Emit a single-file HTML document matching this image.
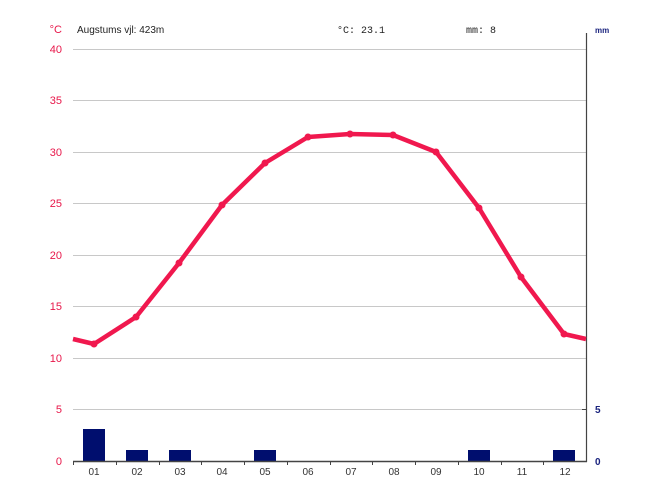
<!DOCTYPE html><html><head><style>body{margin:0;background:#fff}svg{display:block}</style></head><body>
<svg width="658" height="493" xmlns="http://www.w3.org/2000/svg" font-family="Liberation Sans, sans-serif">
<g stroke="#c8c8c8" stroke-width="1">
<line x1="73" y1="49.5" x2="586" y2="49.5"/><line x1="73" y1="100.5" x2="586" y2="100.5"/><line x1="73" y1="152.5" x2="586" y2="152.5"/><line x1="73" y1="203.5" x2="586" y2="203.5"/><line x1="73" y1="255.5" x2="586" y2="255.5"/><line x1="73" y1="306.5" x2="586" y2="306.5"/><line x1="73" y1="358.5" x2="586" y2="358.5"/><line x1="73" y1="409.5" x2="586" y2="409.5"/>
</g>
<g fill="#e8174a" font-size="11" text-anchor="end">
<text x="62" y="53">40</text><text x="62" y="104">35</text><text x="62" y="156">30</text><text x="62" y="207">25</text><text x="62" y="259">20</text><text x="62" y="310">15</text><text x="62" y="362">10</text><text x="62" y="413">5</text><text x="62" y="465">0</text>
<text x="62" y="33">°C</text></g>
<g fill="#1a237e" font-size="10" font-weight="bold"><text x="595" y="413">5</text><text x="595" y="465">0</text><text x="595" y="33" font-size="8">mm</text></g>
<g font-size="10" fill="#222"><text x="77" y="33">Augstums vjl: 423m</text><text x="337" y="33" font-family="Liberation Mono, monospace">°C: 23.1</text><text x="466" y="33" font-family="Liberation Mono, monospace">mm: 8</text></g>
<g fill="#000e6e">
<rect x="83" y="429" width="22" height="32"/><rect x="126" y="450" width="22" height="11"/><rect x="169" y="450" width="22" height="11"/><rect x="254" y="450" width="22" height="11"/><rect x="468" y="450" width="22" height="11"/><rect x="553" y="450" width="22" height="11"/>
</g>
<line x1="73" y1="461.5" x2="587" y2="461.5" stroke="#444" stroke-width="1.5"/>
<line x1="586.5" y1="33" x2="586.5" y2="462" stroke="#444" stroke-width="1.2"/>
<g stroke="#444"><line x1="73.5" y1="461" x2="73.5" y2="465"/><line x1="116.5" y1="461" x2="116.5" y2="465"/><line x1="159.5" y1="461" x2="159.5" y2="465"/><line x1="201.5" y1="461" x2="201.5" y2="465"/><line x1="244.5" y1="461" x2="244.5" y2="465"/><line x1="287.5" y1="461" x2="287.5" y2="465"/><line x1="330.5" y1="461" x2="330.5" y2="465"/><line x1="372.5" y1="461" x2="372.5" y2="465"/><line x1="415.5" y1="461" x2="415.5" y2="465"/><line x1="458.5" y1="461" x2="458.5" y2="465"/><line x1="501.5" y1="461" x2="501.5" y2="465"/><line x1="543.5" y1="461" x2="543.5" y2="465"/><line x1="582" y1="409.5" x2="586" y2="409.5"/></g>
<g font-size="10" fill="#333" text-anchor="middle">
<text x="94" y="475">01</text><text x="137" y="475">02</text><text x="180" y="475">03</text><text x="222" y="475">04</text><text x="265" y="475">05</text><text x="308" y="475">06</text><text x="351" y="475">07</text><text x="394" y="475">08</text><text x="436" y="475">09</text><text x="479" y="475">10</text><text x="522" y="475">11</text><text x="565" y="475">12</text></g>
<polyline fill="none" stroke="#f0184e" stroke-width="4.5" stroke-linejoin="round" points="73,339 94,344 136,317 179,263 222,205 265,163 308,137 350,134 393,135 436,152 479,208 521,277 564,334 586,339"/>
<g fill="#f0184e"><circle cx="94" cy="344" r="3.5"/><circle cx="136" cy="317" r="3.5"/><circle cx="179" cy="263" r="3.5"/><circle cx="222" cy="205" r="3.5"/><circle cx="265" cy="163" r="3.5"/><circle cx="308" cy="137" r="3.5"/><circle cx="350" cy="134" r="3.5"/><circle cx="393" cy="135" r="3.5"/><circle cx="436" cy="152" r="3.5"/><circle cx="479" cy="208" r="3.5"/><circle cx="521" cy="277" r="3.5"/><circle cx="564" cy="334" r="3.5"/></g>
</svg></body></html>
